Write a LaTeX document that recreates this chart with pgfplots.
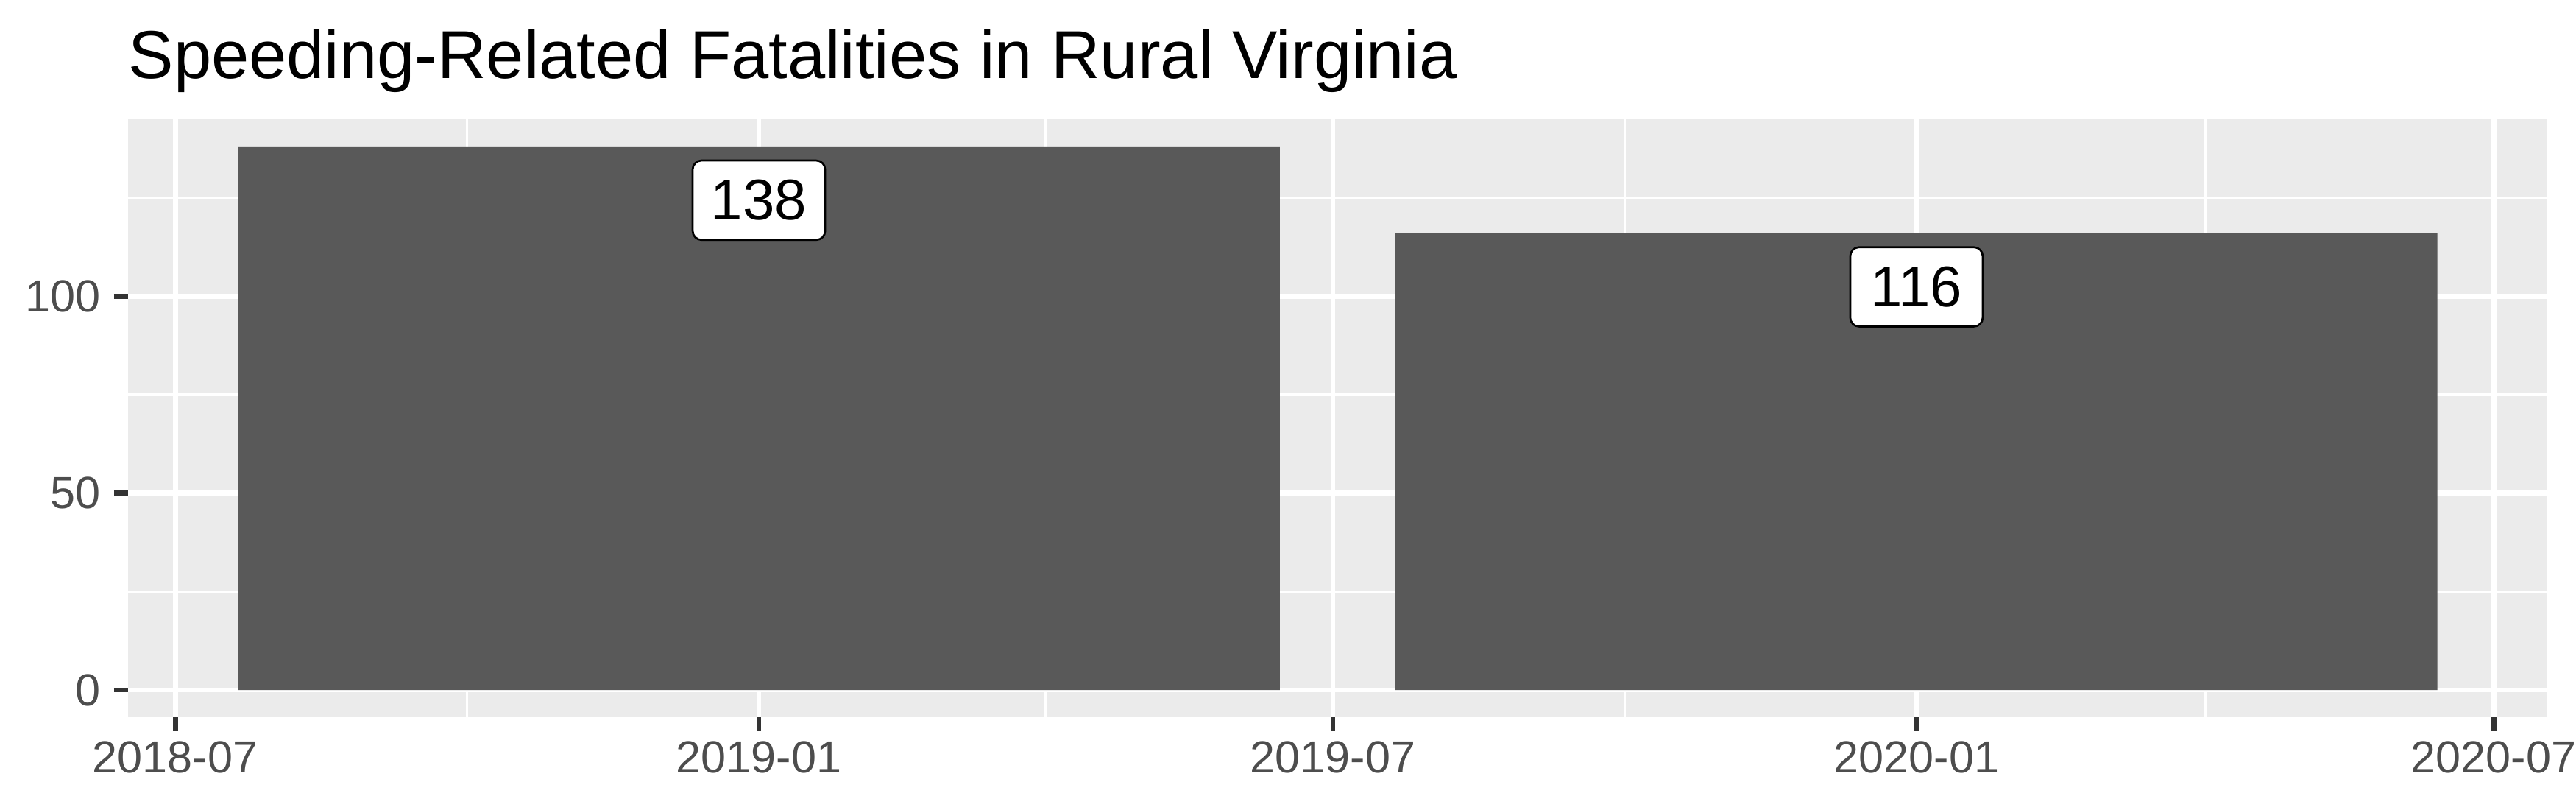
\documentclass[border=0pt]{standalone}
\usepackage{pgfplots}
\pgfplotsset{compat=1.18}
\usepackage{fontspec}
\setmainfont{Liberation Sans}
\definecolor{panelbg}{HTML}{EBEBEB}
\definecolor{barfill}{HTML}{595959}
\definecolor{tickcol}{HTML}{333333}
\definecolor{ticklab}{HTML}{4D4D4D}
\begin{document}
\begin{tikzpicture}
\path[use as bounding box] (0,0) rectangle (350mm,110mm);
\begin{axis}[
  at={(17.4mm,12.6mm)}, anchor=south west,
  scale only axis, width=328.7mm, height=81.2mm,
  xmin=-14.9, xmax=747.9, ymin=-6.9, ymax=144.9,
  axis background/.style={fill=panelbg},
  axis line style={draw=none},
  tick pos=left, tick align=outside,
  major tick length=1.9mm, minor tick length=0pt,
  major tick style={draw=tickcol, line width=0.67mm},
  minor tick style={draw=none},
  xtick={0,184,365,549,731},
  xticklabels={2018-07,2019-01,2019-07,2020-01,2020-07},
  minor xtick={92,274.5,457,640},
  ytick={0,50,100}, minor ytick={25,75,125},
  grid=both,
  major grid style={draw=white, line width=0.67mm},
  minor grid style={draw=white, line width=0.33mm},
  /pgf/number format/assume math mode=true,
  tick label style={font=\fontsize{17.4}{20}\selectfont, text=ticklab, inner sep=0pt},
  xticklabel style={anchor=north, yshift=-1.3mm},
  yticklabel style={anchor=east, xshift=-1.8mm},
  clip=false,
]
\addplot[ybar, bar width=328.5, fill=barfill, draw=none,
  point meta=y,
  nodes near coords,
  every node near coord/.append style={anchor=center, yshift=-7.3mm, fill=white, draw=black, line width=0.27mm, rounded corners=1.2mm, minimum width=18mm, minimum height=10.77mm, inner sep=0pt, font=\fontsize{22.2}{24}\selectfont, text=black},
] coordinates {(184,138) (549,116)};
\end{axis}
\node[anchor=base west, font=\fontsize{26.2}{30}\selectfont, inner sep=0pt] at (17.4mm, 99.3mm) {Speeding-Related Fatalities in Rural Virginia};
\end{tikzpicture}
\end{document}
